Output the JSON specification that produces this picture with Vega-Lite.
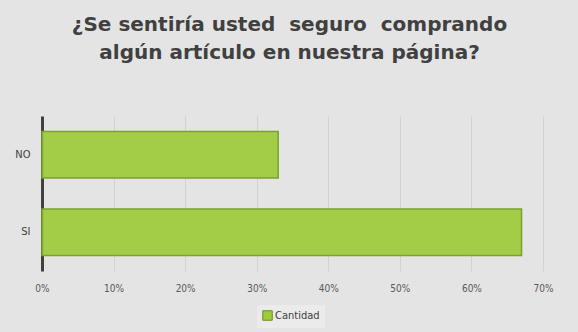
{
  "$schema": "https://vega.github.io/schema/vega-lite/v6.json",
  "autosize": "none",
  "width": 501,
  "height": 155,
  "padding": {"left": 42, "top": 116, "right": 35, "bottom": 61},
  "background": "#e4e4e4",
  "title": {
    "text": ["¿Se sentiría usted\u00a0 seguro\u00a0 comprando", "algún artículo en nuestra página?"],
    "font": "DejaVu Sans",
    "fontSize": 20,
    "fontWeight": "bold",
    "color": "#404040",
    "anchor": "middle",
    "offset": 53,
    "lineHeight": 28,
    "dx": -3
  },
  "data": {
    "values": [
      {"respuesta": "NO", "valor": 0.33, "serie": "Cantidad"},
      {"respuesta": "SI", "valor": 0.67, "serie": "Cantidad"}
    ]
  },
  "mark": {"type": "bar", "stroke": "#7aa22a", "strokeWidth": 1.5, "fillOpacity": 0.95},
  "encoding": {
    "y": {
      "field": "respuesta",
      "type": "nominal",
      "sort": ["NO", "SI"],
      "scale": {"paddingInner": 0.4, "paddingOuter": 0.2},
      "axis": {
        "title": null,
        "domainColor": "#404040",
        "domainWidth": 3,
        "ticks": false,
        "labelFont": "DejaVu Sans Condensed",
        "labelFontSize": 11,
        "labelColor": "#404040",
        "labelPadding": 12
      }
    },
    "x": {
      "field": "valor",
      "type": "quantitative",
      "scale": {"domain": [0, 0.7], "nice": false},
      "axis": {
        "title": null,
        "format": ".0%",
        "values": [0, 0.1, 0.2, 0.3, 0.4, 0.5, 0.6, 0.7],
        "labelFlush": false,
        "domain": false,
        "ticks": false,
        "grid": true,
        "gridColor": "#d2d2d2",
        "labelFont": "DejaVu Sans Condensed",
        "labelFontSize": 10,
        "labelColor": "#595959",
        "labelPadding": 12
      }
    },
    "color": {
      "field": "serie",
      "type": "nominal",
      "scale": {"range": ["#9fca3e"]},
      "legend": {
        "title": null,
        "orient": "none",
        "legendX": 215,
        "legendY": 189,
        "direction": "horizontal",
        "symbolType": "square",
        "symbolSize": 90,
        "symbolStrokeColor": "#6a8f20",
        "symbolStrokeWidth": 1,
        "labelFont": "DejaVu Sans Condensed",
        "labelFontSize": 11,
        "labelColor": "#404040",
        "labelOffset": 2,
        "fillColor": "#ebebeb",
        "padding": 5
      }
    }
  },
  "config": {
    "view": {"stroke": null}
  }
}
